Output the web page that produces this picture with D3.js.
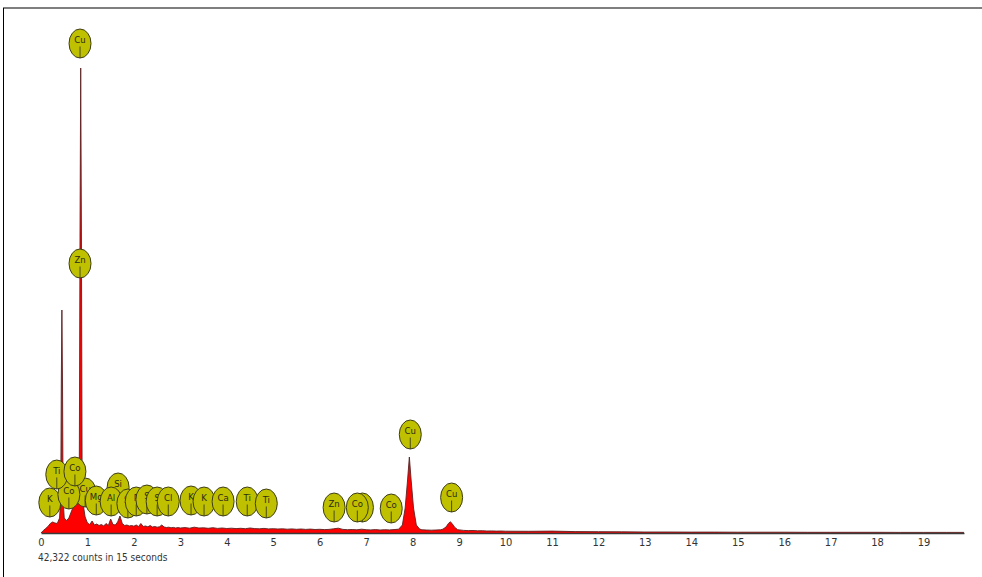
<!DOCTYPE html>
<html>
<head>
<meta charset="utf-8">
<script src="https://cdn.jsdelivr.net/npm/d3@7"></script>
<style>
  html, body { margin: 0; padding: 0; background: #fff; }
  svg { display: block; }
</style>
</head>
<body>
<svg id="chart" width="982" height="577"></svg>
<script>
// ---------- data ----------
const energies = [
  0.00,0.05,0.10,0.15,0.20,0.25,0.30,0.35,0.40,0.425,0.437,0.45,0.463,0.475,0.50,0.55,0.60,0.65,0.70,0.75,0.80,0.825,0.84,0.855,0.87,0.885,0.92,
  0.95,1.00,1.05,1.10,1.15,1.20,1.25,1.30,1.35,1.40,1.45,1.50,1.55,1.60,1.65,1.70,1.75,1.80,1.85,1.90,1.95,
  2.00,2.05,2.10,2.15,2.20,2.25,2.30,2.35,2.40,2.45,2.50,2.55,2.60,2.65,2.70,2.75,2.80,2.85,2.90,2.95,3.00,
  3.1,3.2,3.3,3.4,3.5,3.6,3.7,3.8,3.9,4.0,4.1,4.2,4.3,4.4,4.5,4.6,4.7,4.8,4.9,5.0,
  5.1,5.2,5.3,5.4,5.5,5.6,5.7,5.8,5.9,6.0,6.1,6.2,6.3,6.4,6.5,6.6,6.7,6.8,6.9,7.0,
  7.1,7.2,7.3,7.4,7.5,7.6,7.7,7.78,7.84,7.89,7.93,7.97,8.02,8.08,8.15,
  8.2,8.3,8.4,8.5,8.6,8.65,8.72,8.77,8.81,8.85,8.90,8.97,
  9.1,9.2,9.3,9.4,9.5,9.6,9.7,9.8,9.9,10.0,10.5,11.0,11.5,12.0,12.5,13.0,13.5,14.0,14.5,
  15.0,15.5,16.0,16.5,17.0,17.5,18.0,18.5,19.0,19.5,19.87
];
const counts = [
  0,25,45,65,95,110,100,95,150,350,1500,2230,1500,350,150,125,150,210,270,320,360,700,3000,4650,3000,600,250,
  160,100,85,120,80,90,75,85,70,95,75,140,85,80,110,170,95,75,80,70,75,
  68,80,65,95,65,70,62,75,60,65,58,62,80,60,55,58,52,56,50,54,50,
  54,48,58,50,52,47,53,46,50,45,48,44,47,43,50,44,42,46,41,43,
  40,42,38,41,37,40,36,39,35,37,34,36,42,48,36,33,35,32,38,33,
  31,34,30,33,31,34,38,80,250,520,760,520,250,80,40,
  32,30,28,30,32,38,60,95,112,95,60,33,
  26,24,25,22,23,20,21,19,20,18,17,19,14,13,12,10,10,9,9,
  8,8,8,7,7,7,7,6,6,6,6
];
const tickValues = [0,1,2,3,4,5,6,7,8,9,10,11,12,13,14,15,16,17,18,19];
const footnote = "42,322 counts in 15 seconds";

// element markers: name, energy (keV), anchor level (counts at bottom of marker)
const markerNames  = ["Cu","Zn","Cu","K","Co","Ti","Co","Si","Mg","Al","Si","P","S","S","Cl","K","K","Ca","Ti","Ti","Zn","","Co","Co","Cu","Cu"];
const markerEnergy = [0.84,0.84,0.95,0.19,0.60,0.34,0.73,1.66,1.19,1.51,1.87,2.05,2.28,2.50,2.74,3.23,3.51,3.92,4.44,4.85,6.31,6.92,6.81,7.54,7.95,8.84];
const markerLevel  = [4750,2550,260,160,240,440,470,310,180,170,150,170,190,170,170,180,170,170,170,150,110,110,110,100,840,210];

// ---------- drawing ----------
const svg = d3.select("#chart");
const x0 = 41, pxPerKeV = 46.45;
const x = d3.scaleLinear().domain([0, 19.87]).range([x0, x0 + 19.87 * pxPerKeV]);
const y = d3.scaleLinear().domain([0, 4700]).range([533, 63]);

// frame (top and left borders)
svg.append("line").attr("x1", 3).attr("x2", 982).attr("y1", 8).attr("y2", 8)
  .attr("stroke", "#000").attr("stroke-width", 1.2);
svg.append("line").attr("x1", 3.5).attr("x2", 3.5).attr("y1", 8).attr("y2", 577)
  .attr("stroke", "#000").attr("stroke-width", 1);

const data = energies.map((e, i) => ({ e, c: counts[i] }));

svg.append("path").datum(data)
  .attr("fill", "#ff0000")
  .attr("d", d3.area().x(d => x(d.e)).y0(y(0)).y1(d => y(d.c)));

svg.append("path").datum(data)
  .attr("fill", "none")
  .attr("stroke", "#5a2222")
  .attr("stroke-width", 0.9)
  .attr("d", d3.line().x(d => x(d.e)).y(d => y(d.c)));

// axis
const axis = d3.axisBottom(x).tickValues(tickValues).tickSize(0).tickPadding(5).tickFormat(d3.format("d"));
const gAxis = svg.append("g").attr("transform", `translate(0,${y(0)})`).call(axis);
gAxis.select(".domain").attr("stroke", "#3a3a3a").attr("stroke-width", 1.4);
gAxis.selectAll("text")
  .attr("fill", "#333")
  .style("font-family", "'Liberation Sans Narrow', 'DejaVu Sans Condensed', 'Liberation Sans', sans-serif")
  .style("font-size", "11px");

svg.append("text").attr("x", 38).attr("y", 561)
  .attr("fill", "#333")
  .style("font-family", "'Liberation Sans Narrow', 'DejaVu Sans Condensed', 'Liberation Sans', sans-serif")
  .style("font-size", "10px")
  .text(footnote);

// markers
const rx = 11, ry = 14.5;
const markers = markerNames.map((n, i) => ({ n, e: markerEnergy[i], l: markerLevel[i] }));
const gm = svg.append("g");
markers.forEach(m => {
  const cx = x(m.e), cy = y(m.l) - ry;
  const g = gm.append("g");
  g.append("ellipse").attr("cx", cx).attr("cy", cy).attr("rx", rx).attr("ry", ry)
    .attr("fill", "#bfc000").attr("stroke", "#3d3d1a").attr("stroke-width", 1);
  g.append("line").attr("x1", cx).attr("x2", cx).attr("y1", cy + 3).attr("y2", cy + ry)
    .attr("stroke", "#3d3d1a").attr("stroke-width", 0.9);
  if (m.n) {
    g.append("text").attr("x", cx).attr("y", cy - 1)
      .attr("text-anchor", "middle")
      .attr("fill", "#2a2a10")
      .style("font-family", "'Liberation Sans Narrow', 'DejaVu Sans Condensed', sans-serif")
      .style("font-size", "9.5px")
      .text(m.n);
  }
});
</script>
</body>
</html>
